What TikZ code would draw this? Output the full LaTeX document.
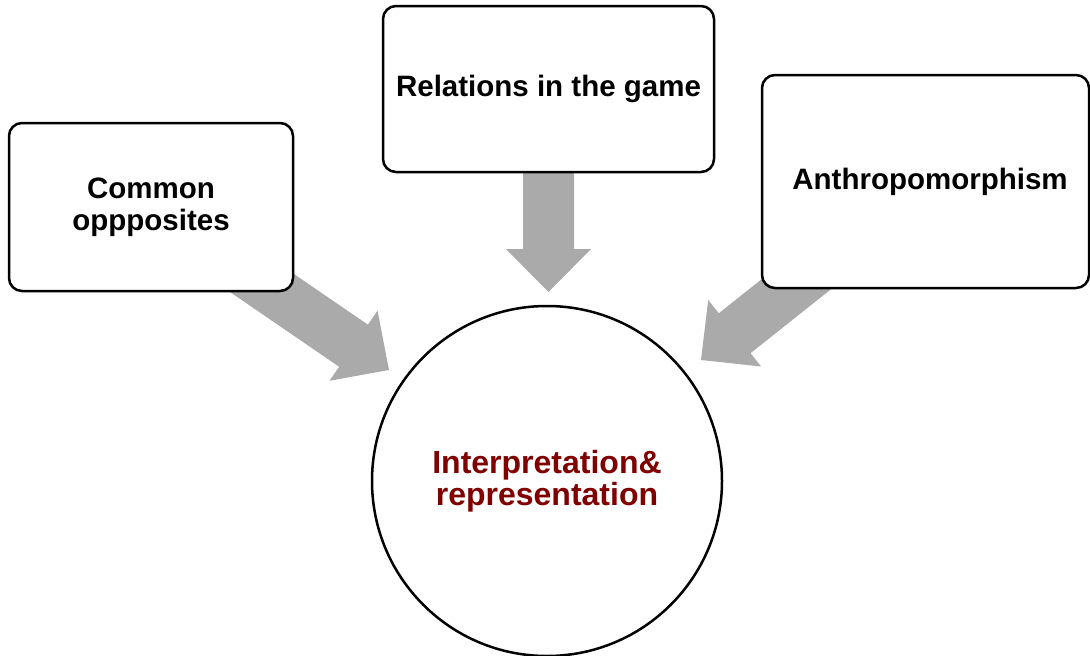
\documentclass[tikz,border=0pt]{standalone}
\usepackage{fontspec}
\setmainfont{Liberation Sans}
\usetikzlibrary{calc}
\definecolor{arrowgray}{HTML}{AAAAAA}
\definecolor{maroontext}{HTML}{800000}
\tikzset{
  topicbox/.style={draw=black, fill=white, line width=2.5pt, rounded corners=13pt,
    align=center, font=\fontsize{29.5}{32}\selectfont\bfseries, inner sep=0pt},
  hubcircle/.style={draw=black, fill=white, circle, line width=2.5pt,
    minimum size=350pt, align=center, inner sep=0pt,
    font=\fontsize{32}{32}\selectfont\bfseries, text=maroontext},
}
% block arrow from #1 to #2: shaft half-width 25.5, head half-width 42.5, head length 43
\newcommand{\blockarrow}[2]{%
  \fill[arrowgray]
    ($(#1)!25.5pt!90:(#2)$) --
    ($($(#2)!43pt!(#1)$)!25.5pt!-90:(#1)$) --
    ($($(#2)!43pt!(#1)$)!42.5pt!-90:(#1)$) --
    (#2) --
    ($($(#2)!43pt!(#1)$)!42.5pt!90:(#1)$) --
    ($($(#2)!43pt!(#1)$)!25.5pt!90:(#1)$) --
    ($(#1)!25.5pt!-90:(#2)$) -- cycle;
}
\begin{document}
\begin{tikzpicture}[x=1pt, y=-1pt]
\useasboundingbox (0,0) rectangle (1090,656);

% positions of the topics and of the arrow tips
\coordinate (cLeft) at (151,207);
\coordinate (cMid) at (548.5,89);
\coordinate (cRight) at (925.5,181.5);
\coordinate (tipLeft) at (389,370);
\coordinate (tipMid) at (548.5,292);
\coordinate (tipRight) at (701,360);

% arrows run from each topic towards the hub
\blockarrow{cLeft}{tipLeft}
\blockarrow{cMid}{tipMid}
\blockarrow{cRight}{tipRight}

% topic boxes
\node[topicbox, minimum width=284pt, minimum height=168pt] (left) at (cLeft) {Common\\oppposites};
\node[topicbox, minimum width=331pt, minimum height=166pt] (mid) at (cMid) {Relations in the game};
\node[topicbox, minimum width=327pt, minimum height=213pt] (right) at (cRight) {\hspace*{9pt}Anthropomorphism};

% hub
\node[hubcircle] (hub) at (547,481) {Interpretation\&\\representation};
\end{tikzpicture}
\end{document}
